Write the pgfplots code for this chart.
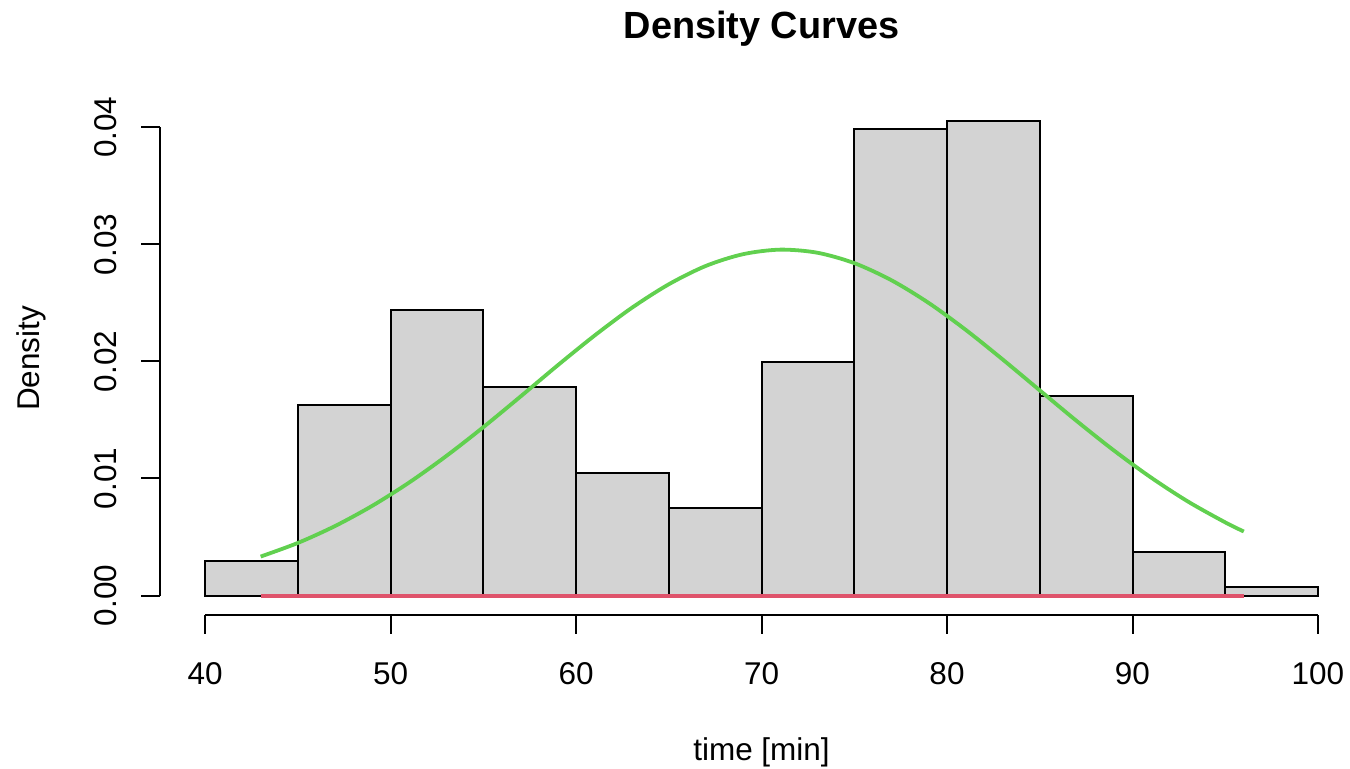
\documentclass[border=0pt]{standalone}
\usepackage{pgfplots}
\pgfplotsset{compat=1.18}
\usepackage{fontspec}
\setmainfont{Liberation Sans}
\definecolor{histfill}{HTML}{D3D3D3}
\definecolor{rgreen}{HTML}{61D04F}
\definecolor{rred}{HTML}{DF536B}

\begin{document}
\begin{tikzpicture}
\begin{axis}[
  at={(0,0)}, anchor=south west,
  scale only axis, width=601bp, height=256bp,
  xmin=37.6, xmax=102.4, ymin=-0.00162, ymax=0.04212,
  clip=false,
  axis x line*=bottom, axis y line*=left,
  axis line style={draw=none},
  xtick={40,50,...,100},
  ytick={0,0.01,0.02,0.03,0.04},
  scaled y ticks=false,
  tick align=outside, major tick length=9.5bp,
  tick style={black, line width=1bp},
  /pgf/number format/assume math mode=true,
  tick label style={font=\fontsize{15.8}{19}\selectfont},
  label style={font=\fontsize{15.8}{19}\selectfont},
  xticklabel style={anchor=base, inner sep=0pt, yshift=-25.5bp},
  yticklabel style={/pgf/number format/.cd, fixed, fixed zerofill, precision=2, /tikz/.cd,
    xshift=-12.6bp, rotate=90, anchor=base, inner sep=0pt},
  xlabel={time [min]},
  xlabel style={at={(axis description cs:0.5,-0.285)}, anchor=base, inner sep=0pt},
  ylabel={Density},
  ylabel style={at={(axis description cs:-0.1004,0.5)}, anchor=base, inner sep=0pt},
  title={Density Curves},
  title style={at={(axis description cs:0.5,1.102)}, anchor=base, inner sep=0pt,
    font=\fontsize{19}{23}\selectfont\bfseries},
]
% histogram (density scale)
\addplot[ybar interval, fill=histfill, draw=black, line width=1bp] coordinates {
  (40,0.00299) (45,0.01624) (50,0.02436) (55,0.01778) (60,0.01043) (65,0.00744)
  (70,0.01991) (75,0.03983) (80,0.04051) (85,0.01701) (90,0.00376) (95,0.00077)
  (100,0.00077)};
% flat curve at zero
\addplot[rred, line width=2bp] coordinates {(43,0) (96,0)};
% fitted normal curve
\addplot[rgreen, line width=1.9bp, smooth] coordinates {
  (43,0.00333) (45,0.00449) (47,0.00593) (49,0.00765) (51,0.00965) (53,0.01191)
  (55,0.01438) (57,0.01699) (59,0.01965) (61,0.02221) (63,0.02457) (65,0.02659)
  (67,0.02816) (69,0.02916) (71,0.02955) (73,0.02929) (75,0.02840) (77,0.02694)
  (79,0.02501) (81,0.02271) (83,0.02017) (85,0.01753) (87,0.01490) (89,0.01239)
  (91,0.01008) (93,0.00802) (95,0.00625) (96,0.00547)};
% R-style axis lines spanning the tick range only
\draw[line width=1bp] (axis cs:40,-0.00162) -- (axis cs:100,-0.00162);
\draw[line width=1bp] (axis cs:37.6,0) -- (axis cs:37.6,0.04);
\end{axis}
\pgfresetboundingbox
\path[use as bounding box] (-80.25bp,-77.25bp) rectangle (594.75bp,307.25bp);
\end{tikzpicture}
\end{document}
